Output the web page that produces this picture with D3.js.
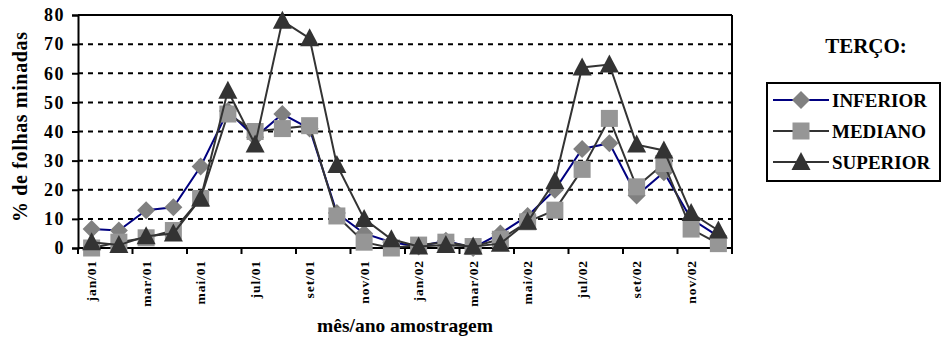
<!DOCTYPE html>
<html>
<head>
<meta charset="utf-8">
<script src="https://cdn.jsdelivr.net/npm/d3@7"></script>
<style>
body { margin: 0; background: #fff; }
</style>
</head>
<body>
<svg></svg>
<script>
// meses de amostragem (jan/01 .. dez/02)
var meses = ['jan/01','fev/01','mar/01','abr/01','mai/01','jun/01','jul/01','ago/01','set/01','out/01','nov/01','dez/01',
             'jan/02','fev/02','mar/02','abr/02','mai/02','jun/02','jul/02','ago/02','set/02','out/02','nov/02','dez/02'];
var inferior = [6.5, 6, 13, 14, 28, 47, 38, 46, 41, 12, 5, 2, 0.5, 2.5, 0, 5, 11, 20, 34, 36, 18, 26, 10, 4];
var mediano  = [0, 2, 3.5, 6, 17, 46, 40, 41, 42, 11, 2, 0, 1, 2, 0.5, 3, 9, 13, 27, 44.5, 21, 29, 6.5, 1.5];
var superior = [2, 1, 4, 5, 17, 54, 35.5, 78, 72, 28.5, 10, 3, 0.5, 1, 0.5, 1.5, 9, 23, 62, 63, 35.5, 33.5, 12, 6];
var yTicks = [0, 10, 20, 30, 40, 50, 60, 70, 80];

var fonte = '"Liberation Serif", "Times New Roman", serif';
var w = 943, h = 341,
	svg = d3.select('svg').attr('width', w).attr('height', h),
	esq = 78, dir = 732, cima = 15, baixo = 248;

var x = d3.scaleBand().domain(meses).range([esq, dir]);
var y = d3.scaleLinear().domain([0, 80]).range([baixo, cima]);

var series = [
	{nome: 'INFERIOR', valores: inferior, linha: '#000080', cor: '#808080', forma: 'diamond'},
	{nome: 'MEDIANO', valores: mediano, linha: '#333333', cor: '#969696', forma: 'square'},
	{nome: 'SUPERIOR', valores: superior, linha: '#333333', cor: '#333333', forma: 'triangle'}
];

function texto(sel, tam) {
	return sel.style('font-family', fonte).style('font-weight', 'bold').style('font-size', tam + 'px').attr('fill', '#000');
}

// linhas de grade tracejadas
svg.selectAll('.grade')
	.data(yTicks.filter(function(d){ return d > 0 && d < 80; }))
	.enter().append('line')
	.attr('x1', esq).attr('x2', dir)
	.attr('y1', function(d){ return y(d); }).attr('y2', function(d){ return y(d); })
	.attr('stroke', '#000').attr('stroke-width', 2).attr('stroke-dasharray', '5,5');

// borda superior e direita
svg.append('line').attr('x1', esq).attr('x2', dir).attr('y1', y(80)).attr('y2', y(80))
	.attr('stroke', '#000').attr('stroke-width', 2);
svg.append('line').attr('x1', dir).attr('x2', dir).attr('y1', y(80)).attr('y2', baixo)
	.attr('stroke', '#000').attr('stroke-width', 2);

// eixo y
var yAxis = svg.append('g').attr('transform', 'translate(' + esq + ',0)')
	.call(d3.axisLeft(y).tickValues(yTicks).tickSize(6).tickPadding(7));
yAxis.select('.domain').attr('stroke-width', 2);
yAxis.selectAll('.tick line').attr('stroke-width', 2);
texto(yAxis.selectAll('text'), 18).style('letter-spacing', '1.5px');

// eixo x: marcas a cada 2 meses, nas divisas
var xAxis = svg.append('g').attr('transform', 'translate(0,' + baixo + ')');
xAxis.append('line').attr('x1', esq).attr('x2', dir).attr('stroke', '#000').attr('stroke-width', 2);
xAxis.selectAll('.marca')
	.data(meses.filter(function(d, i){ return i % 2 == 0; }).concat(['fim']))
	.enter().append('line')
	.attr('x1', function(d){ return d == 'fim' ? dir : x(d); })
	.attr('x2', function(d){ return d == 'fim' ? dir : x(d); })
	.attr('y1', 0).attr('y2', 6)
	.attr('stroke', '#000').attr('stroke-width', 2);
texto(xAxis.selectAll('.rotulo')
	.data(meses.filter(function(d, i){ return i % 2 == 0; }))
	.enter().append('text')
	.attr('transform', function(d){ return 'translate(' + (x(d) + x.bandwidth()/2 + 4.5) + ',12) rotate(-90)'; })
	.attr('text-anchor', 'end')
	.text(function(d){ return d; }), 13.5)
	.style('letter-spacing', '0.9px');

// linhas e marcadores das series
var linha = d3.line()
	.x(function(d, i){ return x(meses[i]) + x.bandwidth()/2; })
	.y(function(d){ return y(d); });

function marcador(g, forma, cor) {
	if (forma == 'diamond')
		g.append('path').attr('d', 'M0,-9L9,0L0,9L-9,0Z').attr('fill', cor);
	else if (forma == 'square')
		g.append('rect').attr('x', -8.5).attr('y', -8.5).attr('width', 17).attr('height', 17).attr('fill', cor);
	else
		g.append('path').attr('d', 'M0,-10L9.5,8L-9.5,8Z').attr('fill', cor);
}

series.forEach(function(s){
	svg.append('path').datum(s.valores)
		.attr('d', linha)
		.attr('fill', 'none')
		.attr('stroke', s.linha)
		.attr('stroke-width', 2);
	s.valores.forEach(function(v, i){
		var g = svg.append('g')
			.attr('transform', 'translate(' + (x(meses[i]) + x.bandwidth()/2) + ',' + y(v) + ')');
		marcador(g, s.forma, s.cor);
	});
});

// titulos dos eixos
texto(svg.append('text')
	.attr('transform', 'translate(27,127) rotate(-90)')
	.attr('text-anchor', 'middle')
	.attr('textLength', 190).attr('lengthAdjust', 'spacing')
	.text('% de folhas minadas'), 20);
texto(svg.append('text')
	.attr('x', 405).attr('y', 332)
	.attr('text-anchor', 'middle')
	.text('mês/ano amostragem'), 19.5);

// legenda
texto(svg.append('text').attr('x', 866).attr('y', 53).attr('text-anchor', 'middle')
	.text('TERÇO:'), 21);
svg.append('rect').attr('x', 767).attr('y', 83).attr('width', 173).attr('height', 98)
	.attr('fill', '#fff').attr('stroke', '#000').attr('stroke-width', 2);
var legY = [100, 131, 162];
series.forEach(function(s, i){
	var g = svg.append('g').attr('transform', 'translate(0,' + legY[i] + ')');
	g.append('line').attr('x1', 773).attr('x2', 829).attr('stroke', s.linha).attr('stroke-width', 2);
	var m = g.append('g').attr('transform', 'translate(801,0)');
	marcador(m, s.forma, s.cor);
	texto(g.append('text').attr('x', 832).attr('y', 7).text(s.nome), 19);
});
</script>
</body>
</html>
